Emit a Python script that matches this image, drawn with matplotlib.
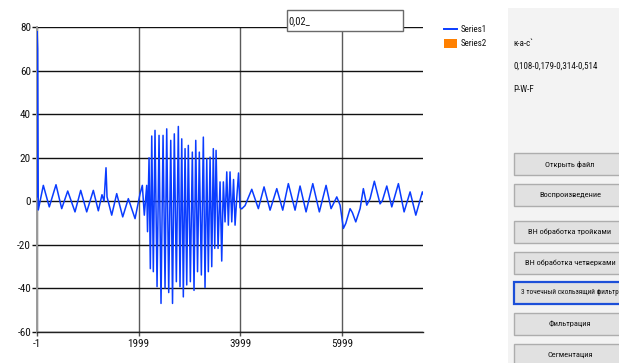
import matplotlib
matplotlib.use("Agg")
import matplotlib.pyplot as plt
import matplotlib.font_manager as fm
from matplotlib.patches import Rectangle
from matplotlib.lines import Line2D

# ---------------- data ----------------
x_ticks = [-1, 1999, 3999, 5999]
y_ticks = [-60, -40, -20, 0, 20, 40, 60, 80]

sig_x = [-1, 8, 18, 30, 129, 246, 378, 490, 608, 751, 863, 981, 1111, 1209,
         1281, 1321, 1360, 1380, 1472, 1570, 1688, 1798, 1930,
         2028, 2073, 2112, 2159, 2175, 2205, 2230, 2258, 2289, 2322, 2362,
         2401, 2440, 2480, 2519, 2552, 2591, 2631, 2666, 2701, 2741, 2780,
         2813, 2847, 2878, 2912, 2945, 2976, 3016, 3055, 3088, 3122, 3157,
         3192, 3232, 3271, 3304, 3338, 3369, 3403, 3436, 3467, 3495, 3521,
         3560, 3599, 3632, 3664, 3697, 3731, 3762, 3795, 3829, 3864, 3894,
         3927, 3962, 3992,
         4025, 4090, 4222, 4351, 4463, 4581, 4713, 4830, 4940, 5072, 5170,
         5288, 5420, 5549, 5681, 5779, 5891, 5956, 6021, 6068, 6152, 6197,
         6264, 6349, 6413, 6480, 6545, 6629, 6741, 6787, 6873, 6971, 7101,
         7213, 7331, 7443, 7572, 7611]
sig_y = [2, 78, 70, -4, 7.3, -2.6, 7.6, -3.4, 4.7, -4.9, 5.0, -4.9, 5.0, -4.4,
         3.0, 0.0, 15.4, 2.0, -6.4, 3.5, -7.2, 1.2, -8.0,
         3.4, 7.3, -6.4, 7.3, -14, 20, -31, 30, -32.4, 32.6, -39.3,
         30.3, -47, 30.3, -40, 33.3, -42, 28, -47, 31, -37, 34.4,
         -39.3, 28.7, -44, 24.2, -38.5, 25.7, -37, 22.6, -41, 28, -32.4,
         22.6, -33.9, 29.5, -39.7, 19.6, -32.4, 20.3, -30.1, 24.2, -21.7, 23.4,
         -21.7, 8.9, -27.5, 8.9, -9.5, 13.5, -11, 13.5, -9.5, 10, -11,
         1.5, 13, -3,
         -3.5, -2.0, 5.5, -3.4, 6.6, -4.1, 5.8, -4.1, 8.1, -4.1, 7.0,
         -4.9, 8.1, -4.9, 7.3, -3.4, 2.0, -1.8, -12.5, -10.2, -3.4, -5.2,
         -9.5, -3.4, 5.8, -1.8, 1.2, 9.2, -1.2, 0.3, 7.0, -2.6, 8.1,
         -4.9, 4.3, -6.4, 4.3, 2.0]

series_names = ["Series1", "Series2"]
textbox_value = "0,02_"
info_lines = ["к-а-с`", "0,108-0,179-0,314-0,514", "P-W-F"]
buttons = ["Открыть файл", "Воспроизведение", "ВН обработка тройками",
           "ВН обработка четверками", "3 точечный скользящий фильтр",
           "Фильтрация", "Сегментация"]


# ---------------- fonts ----------------
def pick(names):
    for n in names:
        try:
            fm.findfont(fm.FontProperties(family=n), fallback_to_default=False)
            return n
        except Exception:
            pass
    return "DejaVu Sans"


NARROW = pick(["Liberation Sans Narrow", "Roboto Condensed", "Liberation Sans"])
plt.rcParams["font.family"] = [NARROW, "DejaVu Sans"]

W, H = 619, 363


def fx(x):
    return x / W


def fy(y):
    return 1 - y / H


fig = plt.figure(figsize=(W / 100, H / 100), dpi=100)
fig.patch.set_facecolor("white")

# plot area
L, R, T, B = 36.7, 423.3, 27.3, 331.7
ax = fig.add_axes([fx(L), fy(B), (R - L) / W, (B - T) / H])
ax.set_facecolor("white")
ax.plot(sig_x, sig_y, color="#0a3cff", lw=1.1, zorder=3)
ax.set_xlim(-1, 7590)
ax.set_ylim(-60, 80)
ax.set_xticks(x_ticks)
ax.set_yticks(y_ticks)
ax.set_xticklabels([str(v) for v in x_ticks])
ax.set_yticklabels([str(v) for v in y_ticks])
ax.set_axisbelow(True)
ax.yaxis.grid(True, color="#111111", lw=1.0)
ax.xaxis.grid(True, color="#5a5a5a", lw=1.0)
for s in ("top", "right"):
    ax.spines[s].set_visible(False)
ax.spines["left"].set_color("#9a9a9a")
ax.spines["left"].set_linewidth(1.4)
ax.spines["bottom"].set_color("#222222")
ax.spines["bottom"].set_linewidth(1.0)
ax.tick_params(axis="y", direction="out", length=3.6, width=1.0, color="#111111",
               pad=0.5, labelsize=8, labelcolor="#111111")
ax.tick_params(axis="x", direction="out", length=3.2, width=1.0, color="#555555",
               pad=2.0, labelsize=8, labelcolor="#111111")

# text box above chart
fig.patches.append(Rectangle((fx(286.7), fy(31)), (402.7 - 286.7) / W, 21 / H,
                             transform=fig.transFigure, facecolor="white",
                             edgecolor="#6a6a6a", lw=1.0, zorder=5))
fig.text(fx(288.5), fy(21), textbox_value, fontsize=7.5, va="center", ha="left",
         color="#111111", zorder=6)

# legend
fig.lines.append(Line2D([fx(444), fx(457)], [fy(28.7), fy(28.7)],
                        transform=fig.transFigure, color="#0a3cff", lw=1.4))
fig.patches.append(Rectangle((fx(444), fy(48.3)), 13 / W, 9 / H,
                             transform=fig.transFigure, facecolor="#ff8000",
                             edgecolor="none"))
fig.text(fx(461), fy(29), series_names[0], fontsize=6.5, va="center", ha="left",
         color="#111111")
fig.text(fx(461), fy(44), series_names[1], fontsize=6.5, va="center", ha="left",
         color="#111111")

# right panel
fig.patches.append(Rectangle((fx(508), 0), (W - 508) / W, fy(8.3),
                             transform=fig.transFigure, facecolor="#f3f3f3",
                             edgecolor="none", zorder=0))
for yy, txt in zip([43, 66, 89], info_lines):
    fig.text(fx(513), fy(yy), txt, fontsize=6.5, va="center", ha="left",
             color="#111111")

btn_tops = [153, 184, 221, 252, 282, 313, 344]
btn_sizes = [6, 6, 6, 6, 5.3, 6, 6]
for i, (top, label, fs) in enumerate(zip(btn_tops, buttons, btn_sizes)):
    focused = (i == 4)
    fig.patches.append(Rectangle((fx(514), fy(top + 22)), 112 / W, 22 / H,
                                 transform=fig.transFigure, facecolor="#e1e1e1",
                                 edgecolor="#1c4fd8" if focused else "#adadad",
                                 lw=1.6 if focused else 1.0, zorder=2))
    fig.text(fx(570), fy(top + 11), label, fontsize=fs, va="center",
             ha="center", color="#111111", zorder=3)

fig.savefig("out.png", dpi=100)
